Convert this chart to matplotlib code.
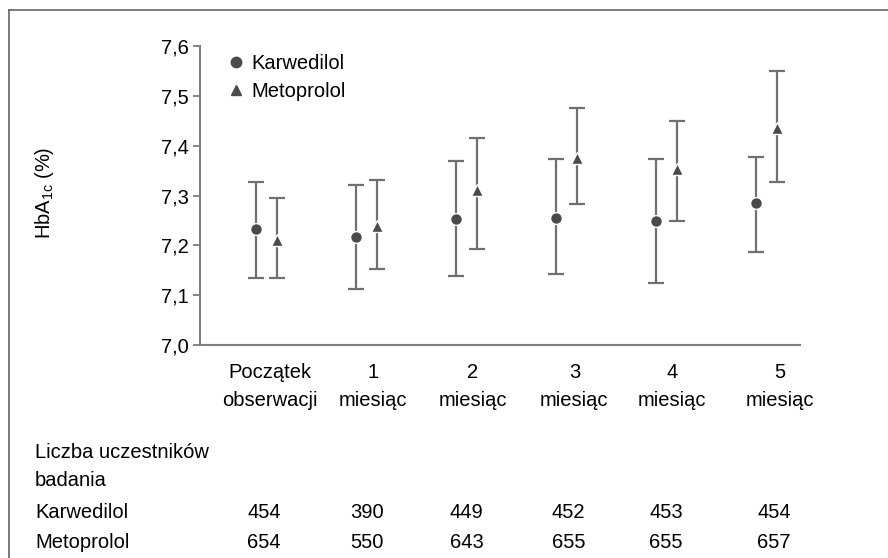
import matplotlib.pyplot as plt
from matplotlib.lines import Line2D
from matplotlib.transforms import blended_transform_factory

plt.rcParams['font.family'] = ['Liberation Sans', 'DejaVu Sans']

# Data
groups = ["Początek\nobserwacji", "1\nmiesiąc", "2\nmiesiąc", "3\nmiesiąc", "4\nmiesiąc", "5\nmiesiąc"]
karw_mean = [7.233, 7.217, 7.253, 7.255, 7.249, 7.284]
karw_low = [7.134, 7.113, 7.139, 7.142, 7.125, 7.187]
karw_high = [7.328, 7.322, 7.369, 7.373, 7.373, 7.378]
meto_mean = [7.211, 7.239, 7.312, 7.376, 7.353, 7.435]
meto_low = [7.134, 7.152, 7.193, 7.282, 7.249, 7.328]
meto_high = [7.294, 7.331, 7.416, 7.475, 7.449, 7.549]
n_karw = [454, 390, 449, 452, 453, 454]
n_meto = [654, 550, 643, 655, 655, 657]

x = list(range(len(groups)))
# label column positions (slightly offset from the data groups, as in the source)
col_x = [0.03, 1.06, 2.06, 3.08, 4.06, 5.14]
off = 0.105

bar_col = "#707070"
mk_col = "#4a4a4a"
fs = 14.5

fig = plt.figure(figsize=(8.88, 5.58), dpi=100)
ax = fig.add_axes([200/888, 1-345/558, 600/888, 299/558])

xk = [v - off for v in x]
xm = [v + off for v in x]
ax.errorbar(xk, karw_mean,
            yerr=[[m - l for m, l in zip(karw_mean, karw_low)], [h - m for m, h in zip(karw_mean, karw_high)]],
            fmt='none', ecolor=bar_col, elinewidth=1.6, capsize=5.5, capthick=1.6)
ax.errorbar(xm, meto_mean,
            yerr=[[m - l for m, l in zip(meto_mean, meto_low)], [h - m for m, h in zip(meto_mean, meto_high)]],
            fmt='none', ecolor=bar_col, elinewidth=1.6, capsize=5.5, capthick=1.6)
ax.plot(xk, karw_mean, 'o', color=mk_col, ms=8.5, mec='white', mew=1.0, zorder=3)
ax.plot(xm, meto_mean, '^', color=mk_col, ms=9, mec='white', mew=1.0, zorder=3)

ax.set_xlim(-0.67, 5.34)
ax.set_ylim(7.0, 7.6)
ax.set_yticks([7.0, 7.1, 7.2, 7.3, 7.4, 7.5, 7.6])
ax.set_yticklabels(["7,0", "7,1", "7,2", "7,3", "7,4", "7,5", "7,6"], fontsize=fs)
ax.tick_params(axis='y', length=5, width=1.2, color=bar_col, pad=3)
ax.set_xticks([])
for s in ['top', 'right']:
    ax.spines[s].set_visible(False)
for s in ['left', 'bottom']:
    ax.spines[s].set_color("#808080")
    ax.spines[s].set_linewidth(1.5)

fig.text(44/888, 1-193/558, "HbA$_{\\mathregular{1c}}$ (%)", rotation=90, fontsize=fs,
         ha='center', va='center')

handles = [Line2D([], [], ls='none', marker='o', color=mk_col, ms=7.5),
           Line2D([], [], ls='none', marker='^', color=mk_col, ms=7.5)]
ax.legend(handles, ["Karwedilol", "Metoprolol"], loc='upper left', bbox_to_anchor=(0.01, 1.035),
          frameon=False, fontsize=fs, handletextpad=0.15, handlelength=1.2, labelspacing=0.45)

tr = blended_transform_factory(ax.transData, fig.transFigure)
for cx, g in zip(col_x, groups):
    l1, l2 = g.split("\n")
    fig.text(cx, 1-372/558, l1, transform=tr, ha='center', va='center', fontsize=fs)
    fig.text(cx, 1-400/558, l2, transform=tr, ha='center', va='center', fontsize=fs)

fig.text(35/888, 1-452/558, "Liczba uczestników", fontsize=fs, va='center')
fig.text(35/888, 1-481/558, "badania", fontsize=fs, va='center')
fig.text(35/888, 1-512/558, "Karwedilol", fontsize=fs, va='center')
fig.text(35/888, 1-542/558, "Metoprolol", fontsize=fs, va='center')
for cx, a, b in zip(col_x, n_karw, n_meto):
    fig.text(cx - 0.06, 1-512/558, str(a), transform=tr, ha='center', va='center', fontsize=fs)
    fig.text(cx - 0.06, 1-542/558, str(b), transform=tr, ha='center', va='center', fontsize=fs)

# outer frame (left and top edges visible)
fig.add_artist(Line2D([9/888, 9/888], [0, 1-10/558], color="#666666", lw=1.2, transform=fig.transFigure))
fig.add_artist(Line2D([9/888, 1], [1-10/558, 1-10/558], color="#666666", lw=1.2, transform=fig.transFigure))

fig.savefig("out.png", dpi=100)
